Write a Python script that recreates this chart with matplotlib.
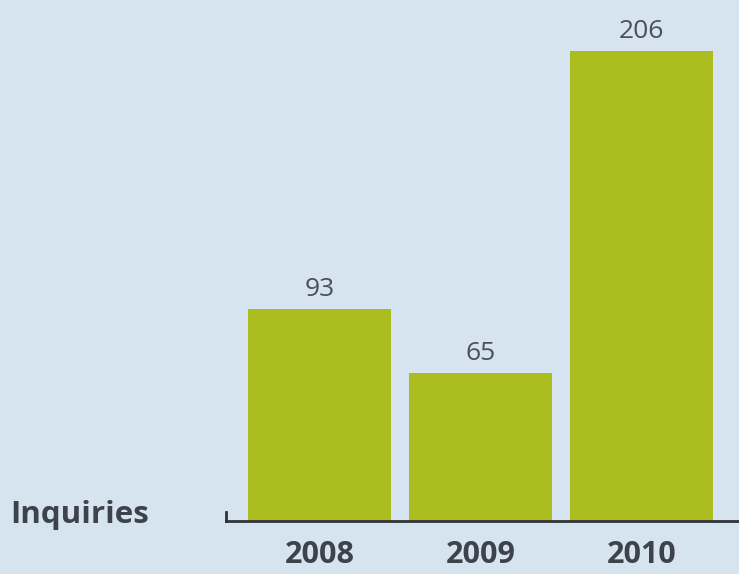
import numpy as np
import matplotlib.pyplot as plt

plt.rcParams['font.family'] = ['Open Sans', 'DejaVu Sans']

# data
years = ['2008', '2009', '2010']
inquiries = [93, 65, 206]

bg = '#d6e4f0'
bar_color = '#abbc1f'
text_color = '#3d424b'

fig = plt.figure(figsize=(7.39, 5.74), dpi=100, facecolor=bg)
ax = fig.add_axes([226 / 739, 53 / 574, 513 / 739, 521 / 574])
ax.set_facecolor(bg)

x = np.arange(len(years))
bars = ax.bar(x, inquiries, width=0.89, color=bar_color, zorder=2)

# value labels above each bar
for xi, v in zip(x, inquiries):
    ax.annotate(str(v), (xi, v), xytext=(0, 5), textcoords='offset points',
                ha='center', va='bottom', fontsize=19, color='#4b5058')

ax.set_xlim(-0.581, 2.606)
ax.set_ylim(0, 228.3)

# baseline only
for s in ['top', 'right', 'left']:
    ax.spines[s].set_visible(False)
ax.spines['bottom'].set_color('#2f333a')
ax.spines['bottom'].set_linewidth(2)
ax.set_yticks([])
ax.set_xticks(x)
ax.set_xticklabels(years, fontsize=22, fontweight='bold', color=text_color)
ax.tick_params(axis='x', length=0, pad=14)

# small uptick at the left end of the baseline
ax.plot([-0.581, -0.581], [0, 4], color='#2f333a', lw=2, clip_on=False)

fig.text(10 / 739, 1 - 515 / 574, 'Inquiries', fontsize=22.5, fontweight='bold',
         color=text_color, ha='left', va='center')

fig.savefig('out.png', dpi=100, facecolor=bg)
